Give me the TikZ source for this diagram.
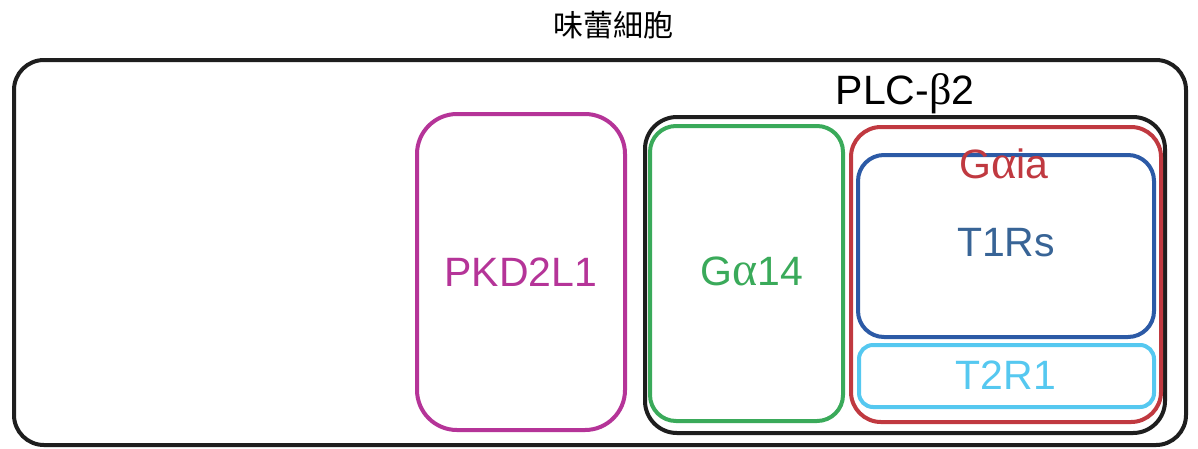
\documentclass[tikz,border=0pt]{standalone}
\usepackage{fontspec}
\setmainfont{Liberation Sans}
\newfontfamily\greekf{Liberation Serif}
\newfontfamily\cjkf{Noto Sans CJK SC}
\definecolor{cmag}{RGB}{181,52,152}
\definecolor{cgreen}{RGB}{58,170,90}
\definecolor{cred}{RGB}{192,57,64}
\definecolor{cblue}{RGB}{44,90,166}
\definecolor{ctext}{RGB}{56,100,150}
\definecolor{clight}{RGB}{85,200,240}
\definecolor{cblack}{RGB}{30,30,30}
\newcommand{\galpha}{{\greekf\fontsize{48}{48}\selectfont α}}
\tikzset{
  box/.style={draw, line width=4pt, rectangle, inner sep=0pt},
  lbl/.style={inner sep=0pt, font=\fontsize{41}{41}\selectfont}
}
\begin{document}
\begin{tikzpicture}[x=1pt,y=-1pt]
\useasboundingbox (0,0) rectangle (1198,448);
\fill[white] (0,0) rectangle (1198,448);
\node[inner sep=0pt, font=\cjkf\fontsize{30}{30}\selectfont] (title) at (613,25) {味蕾細胞};
\node[box, draw=cblack, rounded corners=30pt, minimum width=1172pt, minimum height=385pt] (cell) at (600,252.5) {};
\node[lbl, font=\fontsize{41}{41}\selectfont, text=black, anchor=base] (plc) at (905,104) {PLC-{\greekf\fontsize{44}{44}\selectfont β}2};
\node[box, draw=cblack, rounded corners=32pt, minimum width=520pt, minimum height=316pt] (plcbox) at (905,275) {};
\node[box, draw=cmag, rounded corners=40pt, minimum width=208pt, minimum height=316pt] (pkd) at (521,272) {};
\node[lbl, text=cmag] (pkdt) at (521,272) {PKD2L1};
\node[box, draw=cgreen, rounded corners=26pt, minimum width=193pt, minimum height=295pt] (g14) at (746.5,273.5) {};
\node[lbl, text=cgreen, anchor=base] (g14t) at (752,285) {G\galpha14};
\node[box, draw=cred, rounded corners=30pt, minimum width=310pt, minimum height=295pt] (gia) at (1006,274.5) {};
\node[box, draw=cblue, rounded corners=26pt, minimum width=296pt, minimum height=182pt] (t1) at (1006,246) {};
\node[box, draw=clight, rounded corners=14pt, minimum width=295pt, minimum height=62pt] (t2) at (1006.5,376) {};
\node[lbl, text=cred, anchor=base] (giat) at (1004,178) {G\galpha ia};
\node[lbl, text=ctext] (t1t) at (1006,243) {T1Rs};
\node[lbl, text=clight] (t2t) at (1006,375) {T2R1};
\end{tikzpicture}
\end{document}
